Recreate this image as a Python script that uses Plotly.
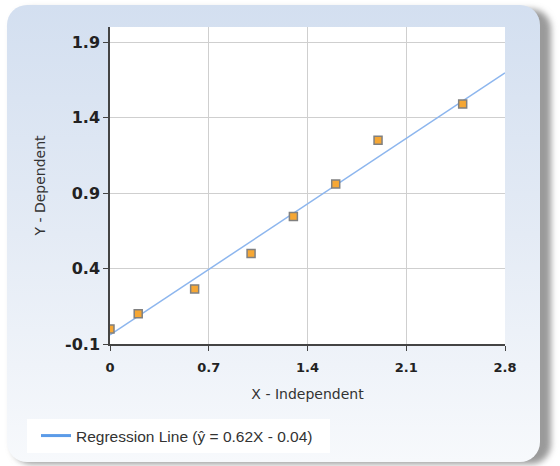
import base64
import plotly.graph_objects as go

# Data
x_values = [0.0, 0.2, 0.6, 1.0, 1.3, 1.6, 1.9, 2.5]
y_values = [0.0, 0.1, 0.265, 0.5, 0.745, 0.96, 1.25, 1.49]
slope = 0.62
intercept = -0.04
x_ticks = [0, 0.7, 1.4, 2.1, 2.8]
y_ticks = [-0.1, 0.4, 0.9, 1.4, 1.9]
legend_label = "Regression Line (ŷ = 0.62X - 0.04)"

W, H = 560, 466
ML, MR, MT, MB = 110, 55, 27, 122
PW, PH = W - ML - MR, H - MT - MB

svg = f"""<svg xmlns='http://www.w3.org/2000/svg' width='{W}' height='{H}' viewBox='0 0 {W} {H}'>
<defs>
<linearGradient id='g' x1='0' y1='0' x2='0' y2='1'>
<stop offset='0' stop-color='#d3dff0'/>
<stop offset='0.5' stop-color='#e4ebf5'/>
<stop offset='1' stop-color='#f7f9fc'/>
</linearGradient>
<filter id='b' x='-10%' y='-10%' width='120%' height='120%'><feGaussianBlur stdDeviation='3'/></filter>
</defs>
<rect x='0' y='0' width='{W}' height='{H}' fill='white'/>
<rect x='12' y='9' width='539' height='455' rx='20' fill='#9a9a9a' filter='url(#b)'/>
<rect x='7' y='5' width='533' height='457' rx='20' fill='url(#g)'/>
</svg>"""
src = "data:image/svg+xml;base64," + base64.b64encode(svg.encode()).decode()

def px_x(p):
    return (p - ML) / PW

def px_y(p):
    return (MT + PH - p) / PH

line_x = [x_ticks[0], x_ticks[-1]]
line_y = [slope * v + intercept for v in line_x]

fig = go.Figure()
fig.add_trace(go.Scatter(x=line_x, y=line_y, mode="lines",
                         line=dict(color="#8db6ee", width=1.5),
                         showlegend=False, hoverinfo="skip"))
fig.add_trace(go.Scatter(x=x_values, y=y_values, mode="markers",
                         marker=dict(symbol="square", size=8, color="#f6a734",
                                     line=dict(color="#808080", width=1.5)),
                         showlegend=False))
fig.add_trace(go.Scatter(x=[None], y=[None], mode="lines", name=legend_label,
                         line=dict(color="#5b9be8", width=3)))

fig.update_layout(
    width=W, height=H,
    margin=dict(l=ML, r=MR, t=MT, b=MB, pad=0),
    paper_bgcolor="white", plot_bgcolor="white",
    images=[dict(source=src, xref="paper", yref="paper",
                 x=-ML / PW, y=1 + MT / PH, sizex=W / PW, sizey=H / PH,
                 xanchor="left", yanchor="top", sizing="stretch", layer="below")],
    shapes=[
        dict(type="rect", xref="x domain", yref="y domain", x0=0, x1=1, y0=0, y1=1,
             fillcolor="white", line=dict(width=0), layer="below"),
        dict(type="rect", xref="paper", yref="paper", x0=px_x(27), x1=px_x(330),
             y0=px_y(453), y1=px_y(419), fillcolor="white", line=dict(width=0), layer="below"),
    ],
    showlegend=True,
    legend=dict(x=px_x(36), y=px_y(419), xanchor="left", yanchor="top",
                bgcolor="rgba(0,0,0,0)", borderwidth=0,
                font=dict(family="Liberation Sans", size=15.5, color="#333333"),
                itemwidth=30),
    font=dict(family="DejaVu Sans", color="#333333"),
)
fig.update_xaxes(range=[0, 2.8], tickvals=x_ticks, ticktext=[f"{v:g}" for v in x_ticks],
                 showgrid=True, gridcolor="#cfcfcf", gridwidth=1,
                 showline=True, linecolor="#444444", linewidth=1.5,
                 ticks="outside", ticklen=5, tickcolor="#444444", ticklabelstandoff=6,
                 tickfont=dict(family="DejaVu Sans", size=13, color="#222222", weight="bold"),
                 title=dict(text="X - Independent", font=dict(family="DejaVu Sans", size=14, color="#333333"), standoff=15),
                 zeroline=False)
fig.update_yaxes(range=[-0.1, 2.0], tickvals=y_ticks, ticktext=[f"{v:g}" for v in y_ticks],
                 showgrid=True, gridcolor="#cfcfcf", gridwidth=1,
                 showline=True, linecolor="#444444", linewidth=1.5,
                 ticks="outside", ticklen=5, tickcolor="#444444",
                 tickfont=dict(family="DejaVu Sans", size=16, color="#222222", weight="bold"),
                 title=dict(text="Y - Dependent", font=dict(family="DejaVu Sans", size=14, color="#333333"), standoff=16),
                 zeroline=False)

fig.write_html("out.html")
